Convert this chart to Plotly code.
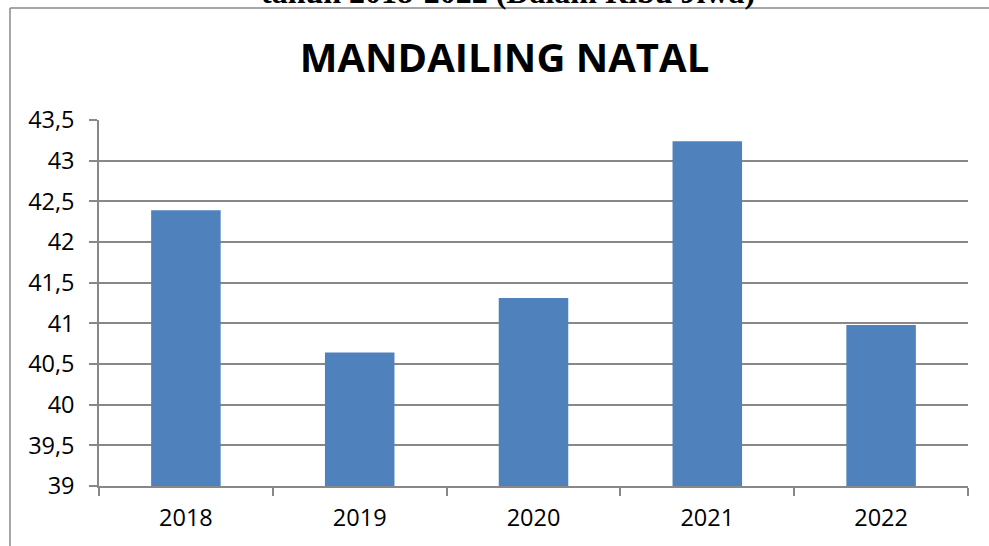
import plotly.graph_objects as go

years = ["2018", "2019", "2020", "2021", "2022"]
values = [42.39, 40.64, 41.31, 43.24, 40.98]
y_ticks = [39, 39.5, 40, 40.5, 41, 41.5, 42, 42.5, 43, 43.5]
y_tick_labels = ["39", "39,5", "40", "40,5", "41", "41,5", "42", "42,5", "43", "43,5"]

W, H = 989, 546
L, R, T, B = 99, 21, 120, 60
pw, ph = W - L - R, H - T - B

def px_x(px):
    return (px - L) / pw

def px_y(py):
    return (H - B - py) / ph

fig = go.Figure()
fig.add_trace(go.Bar(
    x=years, y=values, width=0.4,
    marker=dict(color="#4F81BD", line=dict(width=0)),
))

grid = "#888888"
tick_font = dict(family="Open Sans", size=23.5, color="black")
fig.update_layout(
    width=W, height=H,
    margin=dict(l=L, r=R, t=T, b=B),
    paper_bgcolor="white", plot_bgcolor="white",
    separators=",.",
    showlegend=False,
    title=dict(text="<b>MANDAILING NATAL</b>", x=504.5 / W, xanchor="center",
               y=1 - 58 / H, yanchor="middle",
               font=dict(family="Open Sans", size=40, color="black")),
    xaxis=dict(type="category", tickson="boundaries", ticks="outside", ticklen=8,
               tickcolor=grid, tickwidth=1.5, showline=True, linecolor=grid, linewidth=1.5,
               showgrid=False, ticklabelstandoff=10, tickfont=tick_font),
    yaxis=dict(range=[39, 43.5], tickvals=y_ticks, ticktext=y_tick_labels,
               ticks="outside", ticklen=8, tickcolor=grid, tickwidth=1.5,
               showline=True, linecolor=grid, linewidth=1.5,
               showgrid=True, gridcolor=grid, gridwidth=1.5, zeroline=False,
               ticklabelstandoff=10, tickfont=tick_font),
    shapes=[
        dict(type="line", xref="paper", yref="paper", x0=px_x(10), x1=px_x(10),
             y0=px_y(8), y1=px_y(560), line=dict(color="#888888", width=1.5)),
        dict(type="line", xref="paper", yref="paper", x0=px_x(10), x1=px_x(1000),
             y0=px_y(8), y1=px_y(8), line=dict(color="#888888", width=1.5)),
    ],
    annotations=[
        dict(text="<b>tahun 2018-2022 (Dalam Ribu Jiwa)</b>", xref="paper", yref="paper",
             x=px_x(507.5), y=px_y(11.5), xanchor="center", yanchor="bottom", showarrow=False,
             font=dict(family="Liberation Serif", size=32, color="black")),
    ],
)

fig.write_html("out.html", config={"displayModeBar": False},
               post_script="document.body.style.margin='0';document.body.style.overflow='hidden';")
